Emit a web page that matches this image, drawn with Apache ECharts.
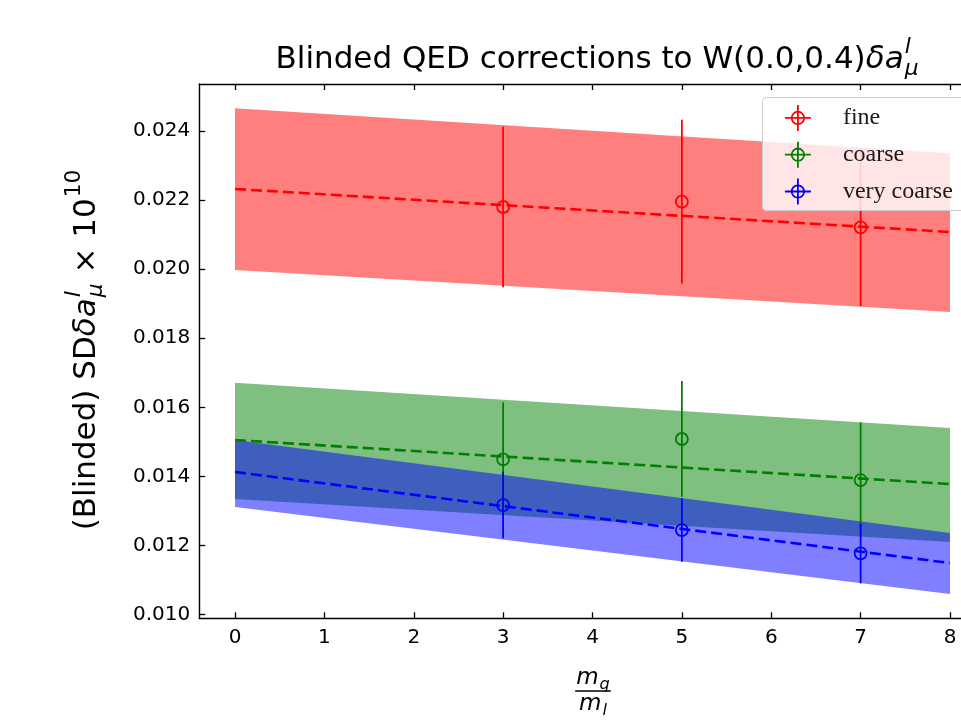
<!DOCTYPE html>
<html>
<head>
<meta charset="utf-8">
<script src="https://cdn.jsdelivr.net/npm/echarts@6/dist/echarts.min.js"></script>
<style>
  html, body { margin: 0; padding: 0; background: #ffffff; }
  #chart { width: 961px; height: 722px; }
</style>
</head>
<body>
<div id="chart"></div>
<script>
// Measured points: quark-to-light mass ratio and blinded SD correction
const massRatios = [3, 5, 7];
const fineValues = [0.021801, 0.021955, 0.021213];
const fineErrors = [0.002326, 0.002375, 0.002279];
const coarseValues = [0.014495, 0.015083, 0.013895];
const coarseErrors = [0.001651, 0.001680, 0.001671];
const veryCoarseValues = [0.013171, 0.012447, 0.011772];
const veryCoarseErrors = [0.000964, 0.000918, 0.000869];

// Linear fits and their error bands, evaluated at the ends of the fit range
const fitX = [0, 8];
const fineFit = [0.022323, 0.021077];
const fineBandLow = [0.019977, 0.018760];
const fineBandHigh = [0.024660, 0.023359];
const coarseFit = [0.015054, 0.013779];
const coarseBandLow = [0.013345, 0.012100];
const coarseBandHigh = [0.016713, 0.015401];
const veryCoarseFit = [0.014127, 0.011491];
const veryCoarseBandLow = [0.013113, 0.010594];
const veryCoarseBandHigh = [0.015054, 0.012360];

// Tick positions
const xTicks = [0, 1, 2, 3, 4, 5, 6, 7, 8];
const yTicks = [0.010, 0.012, 0.014, 0.016, 0.018, 0.020, 0.022, 0.024];

// Visible x window (the frame continues past the right edge of the page)
const X_MIN = -0.4, X_MAX = 8.123;
const Y_MIN = 0.009891, Y_MAX = 0.025363;

const RED = '#ff0000', GREEN = '#008000', BLUE = '#0000ff';
const SANS = 'DejaVu Sans';

// ---------- small helper for math-like labels (stacked scripts) ----------
const measureCtx = document.createElement('canvas').getContext('2d');
function textWidth(t, size, italic) {
  measureCtx.font = (italic ? 'italic ' : '') + size + 'px "' + SANS + '"';
  return measureCtx.measureText(t).width;
}
function textEl(t, x, y, size, italic) {
  return {
    type: 'text', x: x, y: y, silent: true,
    style: {
      text: t, fontSize: size, fontFamily: SANS,
      fontStyle: italic ? 'italic' : 'normal', fill: '#000000',
      align: 'left', verticalAlign: 'middle',
      textAlign: 'left', textVerticalAlign: 'middle'
    }
  };
}
// parts: {t, it} for base text, {sup, sub, it} for stacked scripts, {sup} for a lone superscript
function mathRow(parts, size) {
  const small = size * 0.7;
  let x = 0;
  const kids = [];
  parts.forEach(p => {
    if (p.t !== undefined) {
      kids.push(textEl(p.t, x, 0, size, p.it));
      x += textWidth(p.t, size, p.it);
    } else {
      let w = 0;
      if (p.sup !== undefined) {
        kids.push(textEl(p.sup, x + 1, -0.42 * size, small, p.it));
        w = Math.max(w, textWidth(p.sup, small, p.it) + 1);
      }
      if (p.sub !== undefined) {
        kids.push(textEl(p.sub, x + 1, 0.30 * size, small, p.it));
        w = Math.max(w, textWidth(p.sub, small, p.it) + 1);
      }
      x += w;
    }
  });
  return { kids: kids, width: x };
}

// title
const titleSize = 31;
const titleRow = mathRow([
  { t: 'Blinded QED corrections to W(0.0,0.4)' },
  { t: 'δa', it: true },
  { sup: 'l', sub: 'μ', it: true }
], titleSize);
titleRow.kids.forEach(k => { k.x -= titleRow.width / 2; });

// y axis name
const yNameSize = 31;
const yNameRow = mathRow([
  { t: '(Blinded) SD' },
  { t: 'δa', it: true },
  { sup: 'l', sub: 'μ', it: true },
  { t: ' × 10' },
  { sup: '10' }
], yNameSize);
yNameRow.kids.forEach(k => { k.x -= yNameRow.width / 2; });

// x axis name: fraction m_q / m_l
const fracSize = 23;
const numRow = mathRow([{ t: 'm', it: true }, { sub: 'q', it: true }], fracSize);
const denRow = mathRow([{ t: 'm', it: true }, { sub: 'l', it: true }], fracSize);
numRow.kids.forEach(k => { k.x -= numRow.width / 2; k.y -= 13; });
denRow.kids.forEach(k => { k.x -= denRow.width / 2; k.y += 13; });
const barHalf = Math.max(numRow.width, denRow.width) / 2 + 1;

// ---------- series renderers ----------
function bandRenderer(color, lows, highs) {
  return function (params, api) {
    if (params.dataIndex !== 0) return null;
    const pts = [];
    fitX.forEach((x, i) => pts.push(api.coord([x, highs[i]])));
    for (let i = fitX.length - 1; i >= 0; i--) pts.push(api.coord([fitX[i], lows[i]]));
    return {
      type: 'polygon',
      shape: { points: pts },
      style: { fill: color, stroke: 'none' }
    };
  };
}
function bandSeries(name, color, lows, highs) {
  return {
    name: name, type: 'custom', silent: true, z: 1,
    renderItem: bandRenderer(color, lows, highs),
    encode: { x: 0, y: [1, 2] },
    data: fitX.map((x, i) => [x, lows[i], highs[i]])
  };
}
function fitSeries(name, color, values) {
  return {
    name: name, type: 'line', silent: true, z: 3,
    showSymbol: false, symbol: 'none',
    lineStyle: { color: color, width: 2.6, type: [11, 5] },
    data: fitX.map((x, i) => [x, values[i]])
  };
}
function errorSeries(name, color, values, errors) {
  return {
    name: name, type: 'custom', z: 4,
    itemStyle: { color: color },
    renderItem: function (params, api) {
      const x = api.value(0), y = api.value(1), e = api.value(2);
      const c = api.coord([x, y]);
      const t = api.coord([x, y + e]);
      const b = api.coord([x, y - e]);
      return {
        type: 'group',
        children: [
          { type: 'line', shape: { x1: t[0], y1: t[1], x2: b[0], y2: b[1] },
            style: { stroke: color, lineWidth: 1.8 } },
          { type: 'circle', shape: { cx: c[0], cy: c[1], r: 6 },
            style: { fill: 'none', stroke: color, lineWidth: 1.8 } }
        ]
      };
    },
    encode: { x: 0, y: [1, 2] },
    data: massRatios.map((x, i) => [x, values[i], errors[i], values[i] - errors[i], values[i] + errors[i]])
  };
}

// legend icon: open circle with cross (errorbar handle)
const ERR_ICON = 'path://M13,0L13,26M0,13L26,13M19.2,13A6.2,6.2,0,1,1,6.8,13A6.2,6.2,0,1,1,19.2,13';
function legendItem(name, color) {
  return {
    name: name, icon: ERR_ICON,
    itemStyle: { color: 'rgba(0,0,0,0)', borderColor: color, borderWidth: 1.8 }
  };
}

const axisLineStyle = { color: '#000000', width: 1.4 };
const tickStyle = { color: '#000000', width: 1.3 };

const option = {
  animation: false,
  backgroundColor: '#ffffff',
  grid: { left: 199.25, top: 84, width: 761.75, height: 534.3, containLabel: false },
  legend: {
    orient: 'vertical',
    left: 762, top: 98, z: 30,
    itemWidth: 26, itemHeight: 26, itemGap: 9,
    padding: [6, 10, 8, 22],
    backgroundColor: 'transparent',
    borderWidth: 0,
    selectedMode: false,
    textStyle: {
      fontFamily: 'Liberation Serif', fontSize: 24, color: '#1a1a1a',
      lineHeight: 26, padding: [0, 0, 0, 27]
    },
    data: [legendItem('fine', RED), legendItem('coarse', GREEN), legendItem('very coarse', BLUE)]
  },
  xAxis: [
    {
      type: 'value', min: X_MIN, max: X_MAX, position: 'bottom',
      axisLine: { show: true, onZero: false, lineStyle: axisLineStyle },
      axisTick: { show: true, inside: true, length: 6, lineStyle: tickStyle, customValues: xTicks },
      axisLabel: { show: true, margin: 9, color: '#000000', fontFamily: SANS, fontSize: 20,
                   customValues: xTicks, formatter: v => String(Math.round(v)) },
      splitLine: { show: false }
    },
    {
      type: 'value', min: X_MIN, max: X_MAX, position: 'top',
      axisLine: { show: true, onZero: false, lineStyle: axisLineStyle },
      axisTick: { show: true, inside: true, length: 6, lineStyle: tickStyle, customValues: xTicks },
      axisLabel: { show: false },
      splitLine: { show: false }
    }
  ],
  yAxis: [
    {
      type: 'value', min: Y_MIN, max: Y_MAX, position: 'left',
      axisLine: { show: true, onZero: false, lineStyle: axisLineStyle },
      axisTick: { show: true, inside: true, length: 6, lineStyle: tickStyle, customValues: yTicks },
      axisLabel: { show: true, margin: 9, color: '#000000', fontFamily: SANS, fontSize: 20,
                   customValues: yTicks, formatter: v => v.toFixed(3) },
      splitLine: { show: false }
    }
  ],
  series: [
    bandSeries('fine band', 'rgba(255,0,0,0.5)', fineBandLow, fineBandHigh),
    bandSeries('coarse band', 'rgba(0,128,0,0.5)', coarseBandLow, coarseBandHigh),
    bandSeries('very coarse band', 'rgba(0,0,255,0.5)', veryCoarseBandLow, veryCoarseBandHigh),
    fitSeries('fine fit', RED, fineFit),
    fitSeries('coarse fit', GREEN, coarseFit),
    fitSeries('very coarse fit', BLUE, veryCoarseFit),
    errorSeries('fine', RED, fineValues, fineErrors),
    errorSeries('coarse', GREEN, coarseValues, coarseErrors),
    errorSeries('very coarse', BLUE, veryCoarseValues, veryCoarseErrors)
  ],
  graphic: [
    // legend frame, running past the right edge of the page
    { type: 'rect', z: 20, silent: true,
      shape: { x: 762.5, y: 97.5, width: 260, height: 113, r: 4 },
      style: { fill: 'rgba(255,255,255,0.8)', stroke: '#cccccc', lineWidth: 1 } },
    { type: 'group', x: 597, y: 60, children: titleRow.kids },
    { type: 'group', x: 87, y: 350, rotation: Math.PI / 2, children: yNameRow.kids },
    {
      type: 'group', x: 593, y: 691,
      children: numRow.kids.concat(denRow.kids).concat([
        { type: 'line', silent: true, shape: { x1: -barHalf, y1: 0, x2: barHalf, y2: 0 },
          style: { stroke: '#000000', lineWidth: 1.3 } }
      ])
    }
  ]
};

const chart = echarts.init(document.getElementById('chart'), null, { renderer: 'canvas' });
chart.setOption(option);
</script>
</body>
</html>
